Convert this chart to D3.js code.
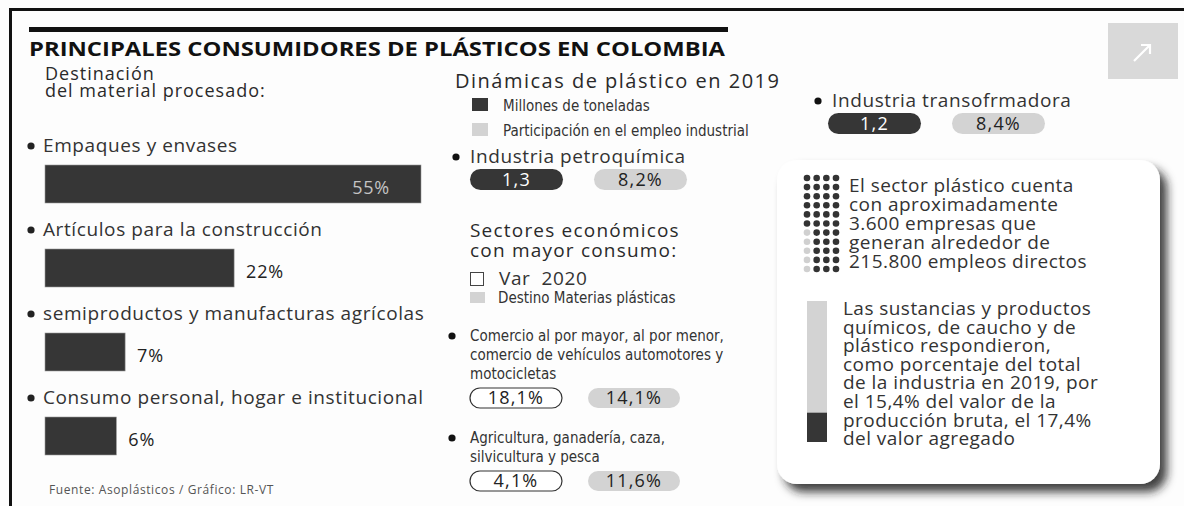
<!DOCTYPE html>
<html>
<head>
<meta charset="utf-8">
<script src="https://cdn.jsdelivr.net/npm/d3@7"></script>
<style>
  body { margin: 0; background: #fdfdfd; }
  svg { display: block; font-family: "Open Sans", "Noto Sans", sans-serif; }
  .narrow { font-family: "Liberation Sans Narrow", "DejaVu Sans Condensed", "Open Sans", sans-serif; font-stretch: condensed; }
</style>
</head>
<body>
<div id="viz"></div>
<script>
// destino del material procesado
let destCategories = ['Empaques y envases', 'Artículos para la construcción',
    'semiproductos y manufacturas agrícolas', 'Consumo personal, hogar e institucional'];
let destValues = [55, 22, 7, 6];

// dinámicas de plástico en 2019
let industries = ['Industria petroquímica', 'Industria transofrmadora'];
let industryTons = [1.3, 1.2];
let industryEmployment = [8.2, 8.4];

// sectores económicos con mayor consumo
let sectors = [
    ['Comercio al por mayor, al por menor,', 'comercio de vehículos automotores y', 'motocicletas'],
    ['Agricultura, ganadería, caza,', 'silvicultura y pesca']
];
let sectorVar2020 = [18.1, 4.1];
let sectorDestino = [14.1, 11.6];

// recuadro derecho
let dotsDark = 39, dotsLight = 5;
let shareParts = [79, 21];

let width = 1184, height = 506;
let dark = '#363636', light = '#d3d3d3', textCol = '#2a2a2a';

let locale = d3.formatLocale({ decimal: ',', thousands: '.', grouping: [3], currency: ['$', ''] });
let f1 = locale.format('.1f');
let pct1 = (v) => f1(v) + '%';

let svg = d3.select('#viz').append('svg')
    .attr('width', width)
    .attr('height', height);

let defs = svg.append('defs');
let shadow = defs.append('filter').attr('id', 'shadow')
    .attr('x', '-10%').attr('y', '-10%').attr('width', '130%').attr('height', '130%');
shadow.append('feDropShadow')
    .attr('dx', 7).attr('dy', 8).attr('stdDeviation', 5)
    .attr('flood-color', '#222').attr('flood-opacity', 0.85);

// marco
svg.append('rect').attr('x', 9).attr('y', 8).attr('width', width).attr('height', 3).attr('fill', '#111');
svg.append('rect').attr('x', 9).attr('y', 8).attr('width', 3).attr('height', height).attr('fill', '#111');
svg.append('rect').attr('x', 29).attr('y', 27).attr('width', 699).attr('height', 5).attr('fill', '#111');

svg.append('text')
    .attr('x', 29).attr('y', 56)
    .attr('font-size', 19).attr('font-weight', 700).attr('fill', '#111')
    .attr('textLength', 696).attr('lengthAdjust', 'spacingAndGlyphs')
    .text('PRINCIPALES CONSUMIDORES DE PLÁSTICOS EN COLOMBIA');

// icono flecha
let icon = svg.append('g').attr('transform', 'translate(1108,23)');
icon.append('rect').attr('width', 70).attr('height', 56).attr('fill', '#d9d9d9');
icon.append('path').attr('d', 'M26,38 L42,22 M33,22 L42,22 L42,31')
    .attr('fill', 'none').attr('stroke', '#fff').attr('stroke-width', 2.2);

function multiline(g, lines, x, y, step) {
    let t = g.append('text').attr('x', x).attr('y', y);
    lines.forEach((l, i) => {
        t.append('tspan').attr('x', x).attr('y', y + i * step).text(l);
    });
    return t;
}

// ---- columna izquierda: barras ----
multiline(svg, ['Destinación', 'del material procesado:'], 45, 80, 17)
    .attr('font-size', 18).attr('letter-spacing', 1).attr('font-weight', 500).attr('fill', textCol);

let xScale = d3.scalePow().exponent(0.75).domain([0, 55]).range([0, 376]);
let rowScale = d3.scalePoint().domain(destCategories).range([152, 404]);
let barH = 38;

let rows = svg.append('g').selectAll('g').data(destCategories).enter().append('g')
    .attr('transform', (d) => 'translate(0,' + rowScale(d) + ')');
rows.append('circle').attr('cx', 31).attr('cy', -6).attr('r', 3.6).attr('fill', '#222');
rows.append('text').attr('x', 43).attr('y', 0)
    .attr('font-size', 19).attr('letter-spacing', 0.6).attr('fill', '#333')
    .text((d) => d);
rows.append('rect')
    .attr('x', 45).attr('y', 13)
    .attr('width', (d, i) => xScale(destValues[i]))
    .attr('height', barH)
    .attr('fill', dark)
    .attr('stroke', '#999').attr('stroke-width', 0.6);
rows.append('text')
    .attr('x', (d, i) => i === 0 ? 45 + xScale(destValues[i]) - 31 : 45 + xScale(destValues[i]) + 12)
    .attr('y', 13 + barH - 9)
    .attr('text-anchor', (d, i) => i === 0 ? 'end' : 'start')
    .attr('font-size', 18).attr('letter-spacing', 0.8)
    .attr('fill', (d, i) => i === 0 ? '#c4c4c4' : '#222')
    .text((d, i) => destValues[i] + '%');

svg.append('text').attr('x', 49).attr('y', 494)
    .attr('font-size', 12).attr('letter-spacing', 0.6).attr('fill', '#555')
    .text('Fuente: Asoplásticos / Gráfico: LR-VT');

// ---- pastillas ----
function pill(g, x, y, w, h, kind, label) {
    let fill = kind === 'dark' ? dark : (kind === 'light' ? light : '#fff');
    g.append('rect').attr('x', x).attr('y', y).attr('width', w).attr('height', h)
        .attr('rx', h / 2).attr('fill', fill)
        .attr('stroke', kind === 'outline' ? '#333' : 'none').attr('stroke-width', 1.2);
    g.append('text').attr('x', x + w / 2).attr('y', y + h - 4)
        .attr('text-anchor', 'middle').attr('font-size', 18).attr('letter-spacing', 1.2)
        .attr('font-weight', 500)
        .attr('fill', kind === 'dark' ? '#fff' : '#222')
        .text(label);
}

// ---- dinámicas 2019 ----
svg.append('text').attr('x', 455).attr('y', 88)
    .attr('font-size', 20).attr('letter-spacing', 1.5).attr('font-weight', 500).attr('fill', textCol)
    .text('Dinámicas de plástico en 2019');
let legend1 = [['Millones de toneladas', dark], ['Participación en el empleo industrial', light]];
legend1.forEach((l, i) => {
    svg.append('rect').attr('x', 472).attr('y', 98 + i * 25).attr('width', 16).attr('height', 13).attr('fill', l[1]);
    svg.append('text').attr('class', 'narrow').attr('x', 503).attr('y', 111 + i * 25)
        .attr('font-size', 15).attr('fill', '#333').text(l[0]);
});

let indPos = [[456, 163], [818, 107]];
industries.forEach((name, i) => {
    let g = svg.append('g').attr('transform', 'translate(' + indPos[i][0] + ',' + indPos[i][1] + ')');
    g.append('circle').attr('cx', 0).attr('cy', -6).attr('r', 3.6).attr('fill', '#111');
    g.append('text').attr('x', 14).attr('y', 0)
        .attr('font-size', 19).attr('letter-spacing', 0.6).attr('fill', '#333').text(name);
    let px = i === 0 ? 14 : 10;
    pill(g, px, 6, 93, 21, 'dark', f1(industryTons[i]));
    pill(g, px + 124, 6, 93, 21, 'light', pct1(industryEmployment[i]));
});

// ---- sectores económicos ----
multiline(svg, ['Sectores económicos', 'con mayor consumo:'], 470, 237, 20)
    .attr('font-size', 19).attr('letter-spacing', 1.2).attr('font-weight', 500).attr('fill', textCol);
svg.append('rect').attr('x', 470.5).attr('y', 272.5).attr('width', 13).attr('height', 13)
    .attr('fill', '#fff').attr('stroke', '#444').attr('stroke-width', 1);
svg.append('text').attr('x', 499).attr('y', 285).attr('font-size', 19).attr('letter-spacing', 0.6)
    .attr('fill', '#333').style('white-space', 'pre').text('Var  2020');
svg.append('rect').attr('x', 470).attr('y', 292).attr('width', 15).attr('height', 11).attr('fill', light);
svg.append('text').attr('class', 'narrow').attr('x', 498).attr('y', 303)
    .attr('font-size', 15).attr('fill', '#333').text('Destino Materias plásticas');

let sectorTop = [341, 443];
sectors.forEach((lines, i) => {
    let g = svg.append('g').attr('transform', 'translate(0,' + sectorTop[i] + ')');
    g.append('circle').attr('cx', 452).attr('cy', -5).attr('r', 3.6).attr('fill', '#111');
    multiline(g, lines, 470, 0, 19).attr('class', 'narrow').attr('font-size', 15).attr('fill', '#333');
    let py = (lines.length - 1) * 19 + 9;
    pill(g, 470, py, 92, 20, 'outline', pct1(sectorVar2020[i]));
    pill(g, 588, py, 92, 20, 'light', pct1(sectorDestino[i]));
});

// ---- recuadro ----
let box = svg.append('g');
box.append('rect').attr('x', 777).attr('y', 160).attr('width', 383).attr('height', 324)
    .attr('rx', 20).attr('fill', '#fff').attr('filter', 'url(#shadow)');

// puntos: 4 columnas x 11 filas
let dots = d3.range(dotsDark + dotsLight).map((i) => {
    let row = Math.floor(i / 4), col = i % 4;
    let isLight = row >= 6 && col === 0;
    return { row: row, col: col, light: isLight };
});
let dx = d3.scaleLinear().domain([0, 3]).range([807, 836]);
let dy = d3.scaleLinear().domain([0, 10]).range([178, 269]);
box.append('g').selectAll('circle').data(dots).enter().append('circle')
    .attr('cx', (d) => dx(d.col))
    .attr('cy', (d) => dy(d.row))
    .attr('r', 3.3)
    .attr('fill', (d) => d.light ? '#d0d0d0' : '#333');

multiline(box, ['El sector plástico cuenta', 'con aproximadamente', '3.600 empresas que',
    'generan alrededor de', '215.800 empleos directos'], 849, 192, 19)
    .attr('font-size', 19).attr('letter-spacing', 0.45).attr('fill', '#333');

// barra apilada
let yShare = d3.scaleLinear().domain([0, 100]).range([442, 301]);
let stack = [[0, shareParts[1]], [shareParts[1], 100]];
box.append('g').selectAll('rect').data(stack).enter().append('rect')
    .attr('x', 807).attr('width', 20)
    .attr('y', (d) => yShare(d[1]))
    .attr('height', (d) => yShare(d[0]) - yShare(d[1]))
    .attr('fill', (d, i) => i === 0 ? dark : light);

multiline(box, ['Las sustancias y productos', 'químicos, de caucho y de', 'plástico respondieron,',
    'como porcentaje del total', 'de la industria en 2019, por', 'el 15,4% del valor de la',
    'producción bruta, el 17,4%', 'del valor agregado'], 843, 315, 18.6)
    .attr('font-size', 19).attr('letter-spacing', 0.45).attr('fill', '#333');
</script>
</body>
</html>
